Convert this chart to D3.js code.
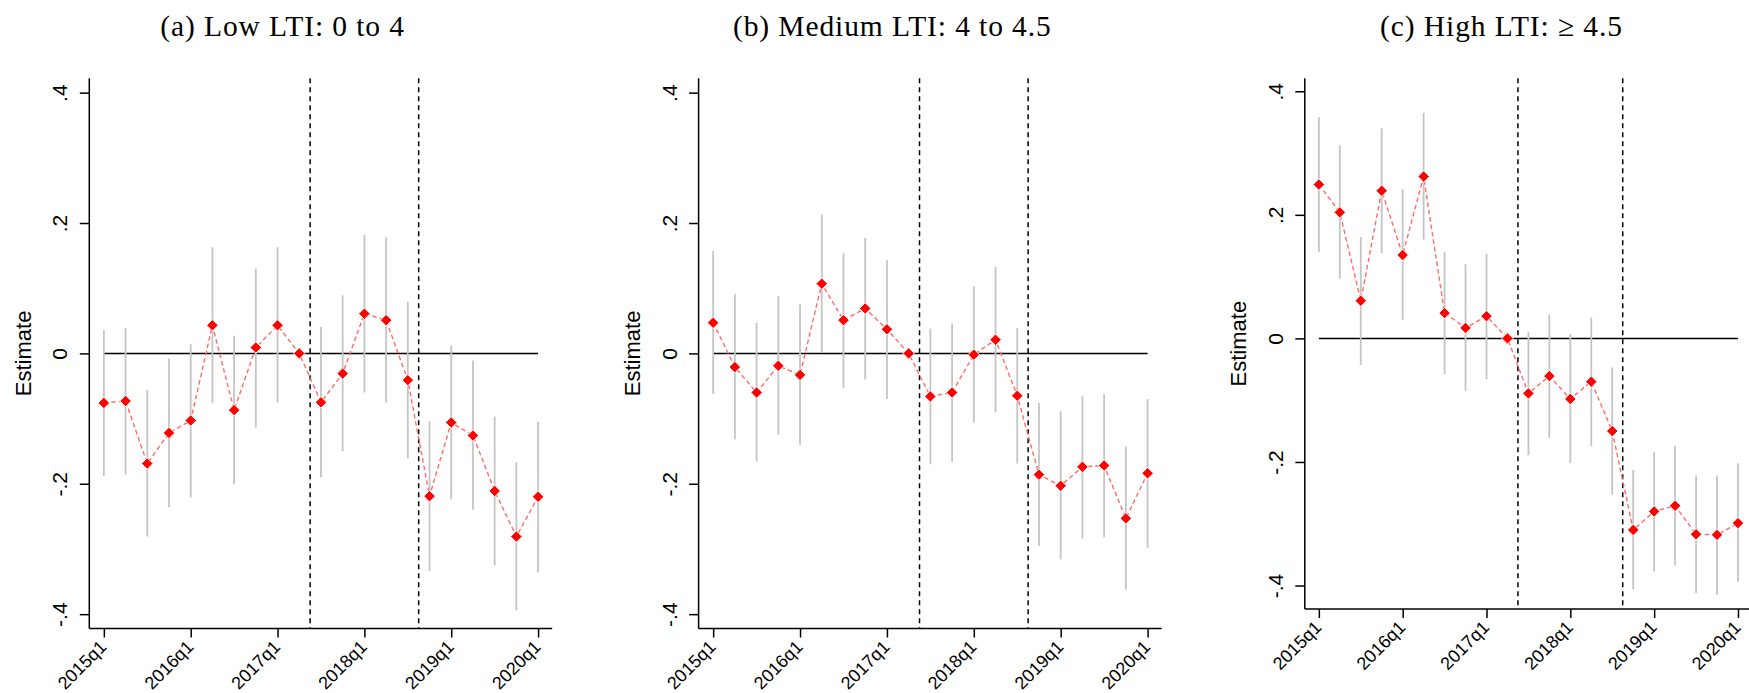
<!DOCTYPE html>
<html><head><meta charset="utf-8">
<script src="https://cdn.jsdelivr.net/npm/d3@7"></script>
<style>body{margin:0;background:#fff;overflow:hidden} svg{display:block}</style>
</head><body>
<svg id="chart" width="1749" height="693"></svg>
<script>
// ---------- data ----------
const quarters = ["2015q1","2015q2","2015q3","2015q4","2016q1","2016q2","2016q3","2016q4",
  "2017q1","2017q2","2017q3","2017q4","2018q1","2018q2","2018q3","2018q4",
  "2019q1","2019q2","2019q3","2019q4","2020q1"];
const xTickLabels = ["2015q1","2016q1","2017q1","2018q1","2019q1","2020q1"];
const yTicks = [-0.4, -0.2, 0, 0.2, 0.4];
const yTickLabels = ["-.4", "-.2", "0", ".2", ".4"];
const policyBreaks = [9.5, 14.5]; // between quarters (index units)
const titles = ["(a) Low LTI: 0 to 4", "(b) Medium LTI: 4 to 4.5", "(c) High LTI: \u2265 4.5"];
const yTitle = "Estimate";

const lowEst = [-0.076,-0.073,-0.169,-0.122,-0.103,0.043,-0.087,0.009,0.043,0,-0.075,-0.031,0.061,0.051,-0.041,-0.219,-0.106,-0.126,-0.211,-0.281,-0.220];
const lowLo  = [-0.188,-0.186,-0.281,-0.236,-0.221,-0.076,-0.201,-0.114,-0.075,null,-0.190,-0.150,-0.060,-0.075,-0.161,-0.334,-0.224,-0.240,-0.325,-0.394,-0.336];
const lowHi  = [0.036,0.039,-0.056,-0.008,0.014,0.163,0.027,0.130,0.163,null,0.041,0.089,0.182,0.178,0.079,-0.104,0.012,-0.011,-0.097,-0.167,-0.105];

const medEst = [0.047,-0.021,-0.060,-0.019,-0.033,0.107,0.051,0.069,0.037,0,-0.066,-0.060,-0.002,0.021,-0.065,-0.186,-0.203,-0.174,-0.172,-0.253,-0.184];
const medLo  = [-0.062,-0.132,-0.166,-0.125,-0.140,0.001,-0.053,-0.040,-0.070,null,-0.170,-0.167,-0.106,-0.090,-0.169,-0.295,-0.316,-0.284,-0.282,-0.362,-0.298];
const medHi  = [0.157,0.091,0.047,0.088,0.075,0.213,0.154,0.177,0.143,null,0.038,0.046,0.103,0.133,0.039,-0.076,-0.089,-0.065,-0.062,-0.143,-0.070];

const highEst = [0.249,0.204,0.061,0.239,0.135,0.262,0.041,0.017,0.036,0,-0.089,-0.061,-0.098,-0.070,-0.150,-0.310,-0.280,-0.271,-0.317,-0.318,-0.299];
const highLo  = [0.140,0.097,-0.043,0.138,0.030,0.160,-0.058,-0.085,-0.066,null,-0.189,-0.161,-0.202,-0.174,-0.253,-0.406,-0.377,-0.368,-0.412,-0.415,-0.394];
const highHi  = [0.358,0.312,0.164,0.340,0.242,0.365,0.140,0.120,0.137,null,0.010,0.039,0.007,0.034,-0.047,-0.213,-0.184,-0.174,-0.222,-0.222,-0.202];

// ---------- layout ----------
const layouts = [
  {left: 89.3,  right: 552.2,  top: 78.3, bottom: 628.5, yDom: [-0.422, 0.422], titleX: 282.6},
  {left: 698.6, right: 1161.7, top: 78.3, bottom: 628.5, yDom: [-0.422, 0.422], titleX: 892.3},
  {left: 1304.8,right: 1751.6, top: 78.3, bottom: 609.0, yDom: [-0.438, 0.421], titleX: 1501.5}
];
const series = [
  {est: lowEst, lo: lowLo, hi: lowHi},
  {est: medEst, lo: medLo, hi: medHi},
  {est: highEst, lo: highLo, hi: highHi}
];
const xDom = [-0.67, 20.65];

const svg = d3.select("#chart");
const sans = "'Liberation Sans', Arial, Helvetica, sans-serif";

layouts.forEach((L, p) => {
  const S = series[p];
  const x = d3.scaleLinear().domain(xDom).range([L.left, L.right]);
  const y = d3.scaleLinear().domain(L.yDom).range([L.bottom, L.top]);
  const g = svg.append("g");

  // title
  svg.append("text")
    .attr("x", L.titleX).attr("y", 36)
    .attr("text-anchor", "middle")
    .attr("font-family", "'Liberation Serif', 'Times New Roman', serif")
    .attr("font-size", 29.5)
    .attr("letter-spacing", "0.9px")
    .attr("fill", "#000")
    .text(titles[p]);

  // zero line
  g.append("line")
    .attr("x1", x(0)).attr("x2", x(quarters.length - 1))
    .attr("y1", y(0)).attr("y2", y(0))
    .attr("stroke", "#000").attr("stroke-width", 1.5);

  // policy break lines
  g.selectAll(".vl").data(policyBreaks).enter().append("line")
    .attr("x1", d => x(d)).attr("x2", d => x(d))
    .attr("y1", L.top).attr("y2", L.bottom)
    .attr("stroke", "#000").attr("stroke-width", 1.5)
    .attr("stroke-dasharray", "5,4");

  const pts = quarters.map((q, i) => ({i, est: S.est[i], lo: S.lo[i], hi: S.hi[i]}));

  // CI spikes
  g.selectAll(".ci").data(pts.filter(d => d.lo !== null)).enter().append("line")
    .attr("x1", d => x(d.i)).attr("x2", d => x(d.i))
    .attr("y1", d => y(d.lo)).attr("y2", d => y(d.hi))
    .attr("stroke", "#c4c4c4").attr("stroke-width", 1.8);

  // connecting dashed line
  g.append("path")
    .attr("d", d3.line().x(d => x(d.i)).y(d => y(d.est))(pts))
    .attr("fill", "none").attr("stroke", "#ff6b6b")
    .attr("stroke-width", 1.4).attr("stroke-dasharray", "4.5,3");

  // diamonds
  const sym = d3.symbol().type(d3.symbolSquare).size(66);
  g.selectAll(".pt").data(pts).enter().append("path")
    .attr("d", sym())
    .attr("transform", d => `translate(${x(d.i)},${y(d.est)}) rotate(45)`)
    .attr("fill", "#ff0000").attr("stroke", "#fff").attr("stroke-width", 0.9);

  // y axis
  const ya = g.append("g").attr("transform", `translate(${L.left},0)`)
    .call(d3.axisLeft(y).tickValues(yTicks).tickSize(9.5).tickFormat((d, i) => yTickLabels[i]));
  ya.select(".domain").attr("stroke", "#000").attr("stroke-width", 1.5)
    .attr("d", `M0,${L.top}V${L.bottom}`);
  ya.selectAll(".tick line").attr("stroke", "#000").attr("stroke-width", 1.5);
  ya.selectAll(".tick text")
    .attr("font-family", sans).attr("font-size", 21).attr("fill", "#000")
    .attr("x", null).attr("dy", null)
    .attr("text-anchor", "middle")
    .attr("transform", "translate(-22,0) rotate(-90)");

  // x axis
  const xa = g.append("g").attr("transform", `translate(0,${L.bottom})`)
    .call(d3.axisBottom(x).tickValues(xTickLabels.map(l => quarters.indexOf(l))).tickSize(9)
      .tickFormat(d => quarters[d]));
  xa.select(".domain").attr("stroke", "#000").attr("stroke-width", 1.5)
    .attr("d", `M${L.left},0H${L.right}`);
  xa.selectAll(".tick line").attr("stroke", "#000").attr("stroke-width", 1.5);
  xa.selectAll(".tick text")
    .attr("font-family", sans).attr("font-size", 18).attr("fill", "#000")
    .attr("y", null).attr("dy", null)
    .attr("text-anchor", "end")
    .attr("transform", "translate(3.3,19.5) rotate(-45)");

  // y title
  svg.append("text")
    .attr("transform", `translate(${L.left - 58.5},${(L.top + L.bottom) / 2}) rotate(-90)`)
    .attr("text-anchor", "middle")
    .attr("font-family", sans).attr("font-size", 22).attr("fill", "#000")
    .text(yTitle);
});
</script>
</body></html>
